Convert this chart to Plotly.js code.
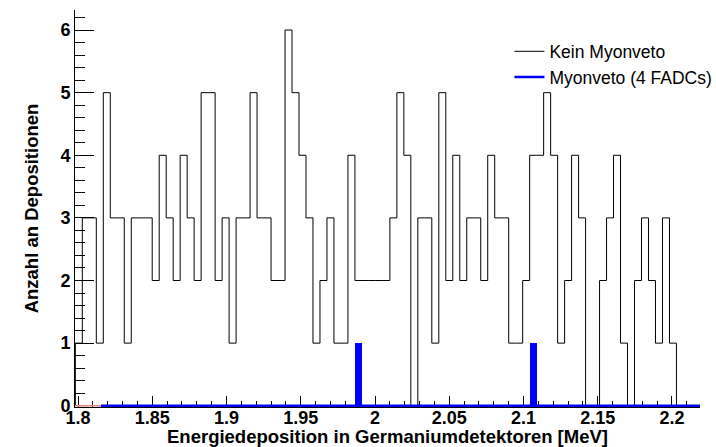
<!DOCTYPE html>
<html><head><meta charset="utf-8">
<script src="https://cdn.plot.ly/plotly-3.0.1.min.js"></script>
<style>html,body{margin:0;padding:0;background:#fff}#chart{width:716px;height:447px}</style>
</head><body><div id="chart"></div>
<script>
// ---- data ----
const binStart = 1.7982;     // MeV, lower edge of first bin
const binWidth = 0.004707;   // MeV
const countsKeinVeto = [
  1,3,3,1,5,3,3,1,3,3,3,
  2,4,3,2,4,3,2,5,5,2,
  3,1,3,3,5,3,3,2,2,6,
  5,4,3,1,2,3,1,1,4,2,
  2,2,2,2,3,5,4,0,3,3,
  1,5,2,4,2,3,3,2,4,3,
  3,1,1,2,4,4,5,4,1,2,
  4,3,0,0,2,3,4,1,0,2,
  3,2,1,3,1
];
const countsMyonveto = [
  0,0,0,0,0,0,0,0,0,0, 0,0,0,0,0,0,0,0,0,0,
  0,0,0,0,0,0,0,0,0,0, 0,0,0,0,0,0,0,0,0,0,
  1,
  0,0,0,0,0,0,0,0,0,0, 0,0,0,0,0,0,0,0,0,0, 0,0,0,0,
  1,
  0,0,0,0,0,0,0,0,0,0, 0,0,0,0,0,0,0,0,0,0
];
const myonvetoRange = [1.8155, 2.2189];
const redBaselineRange = [1.7980, 1.8155];
const xAxisRange = [1.79798, 2.21886];
const yAxisRange = [-0.02, 6.32];
const xTickVals = [1.8, 1.85, 1.9, 1.95, 2.0, 2.05, 2.1, 2.15, 2.2];
const xTickLabels = ['1.8','1.85','1.9','1.95','2','2.05','2.1','2.15','2.2'];
const yTickVals = [0,1,2,3,4,5,6];
const yTickLabels = ['0','1','2','3','4','5','6'];
const seriesNames = ['Kein Myonveto', 'Myonveto (4 FADCs)'];

// ---- build step outline of black histogram ----
const nb = countsKeinVeto.length;
const edges = [];
for (let i = 0; i <= nb; i++) edges.push(binStart + i * binWidth);
const stepX = [edges[0]];
const stepY = [0];
for (let i = 0; i < nb; i++) { stepX.push(edges[i]); stepY.push(countsKeinVeto[i]); }
stepX.push(edges[nb]); stepY.push(countsKeinVeto[nb - 1]);
stepX.push(edges[nb]); stepY.push(0);

const centers = countsMyonveto.map((_, i) => binStart + (i + 0.5) * binWidth);

const FONT = 'Liberation Sans, Arial, Helvetica, sans-serif';

const traces = [
  {
    type: 'scatter', mode: 'lines', name: seriesNames[0],
    x: stepX, y: stepY, line: {shape: 'hv', color: '#000000', width: 1},
    hoverinfo: 'skip'
  },
  {
    type: 'scatter', mode: 'lines', name: seriesNames[1],
    x: myonvetoRange, y: [0, 0], line: {color: '#0000ff', width: 2.6}
  },
  {
    type: 'bar', name: seriesNames[1], showlegend: false,
    x: centers, y: countsMyonveto, width: binWidth,
    marker: {color: '#0000ff', line: {width: 0}}
  },
  {
    type: 'scatter', mode: 'lines', showlegend: false,
    x: redBaselineRange, y: [0, 0], line: {color: '#e08a8a', width: 1.6}
  }
];

const layout = {
  width: 716, height: 447,
  margin: {l: 75, r: 16, t: 10, b: 40, autoexpand: false},
  paper_bgcolor: '#ffffff', plot_bgcolor: '#ffffff',
  showlegend: true,
  bargap: 0,
  legend: {
    xref: 'container', x: 0.7115, y: 0.941, xanchor: 'left', yanchor: 'top',
    bgcolor: 'rgba(255,255,255,0)', borderwidth: 0,
    font: {family: FONT, size: 17.5, color: '#000'},
    tracegroupgap: 0
  },
  xaxis: {
    range: xAxisRange, showgrid: false, zeroline: false,
    showline: true, linecolor: '#000', linewidth: 1, layer: 'below traces',
    tickmode: 'array', tickvals: xTickVals, ticktext: xTickLabels,
    ticks: 'inside', ticklen: 11, tickwidth: 1, tickcolor: '#000',
    ticklabelstandoff: -6,
    minor: {tick0: 1.8, dtick: 0.01, ticks: 'inside', ticklen: 6, tickcolor: '#000', tickwidth: 1, showgrid: false},
    tickfont: {family: FONT, size: 18, color: '#000', weight: 'bold'},
    title: {text: 'Energiedeposition in Germaniumdetektoren [MeV]', standoff: 1,
            font: {family: FONT, size: 18.5, color: '#000', weight: 'bold'}}
  },
  yaxis: {
    range: yAxisRange, showgrid: false, zeroline: false,
    showline: true, linecolor: '#000', linewidth: 1, layer: 'below traces',
    tickmode: 'array', tickvals: yTickVals, ticktext: yTickLabels,
    ticks: 'inside', ticklen: 19, tickwidth: 1, tickcolor: '#000',
    minor: {tick0: 0, dtick: 0.2, ticks: 'inside', ticklen: 9.5, tickcolor: '#000', tickwidth: 1, showgrid: false},
    tickfont: {family: FONT, size: 18, color: '#000', weight: 'bold'},
    title: {text: 'Anzahl an Depositionen', standoff: 16,
            font: {family: FONT, size: 18.5, color: '#000', weight: 'bold'}}
  }
};

Plotly.newPlot('chart', traces, layout, {displayModeBar: false, staticPlot: true});
</script>
</body></html>
